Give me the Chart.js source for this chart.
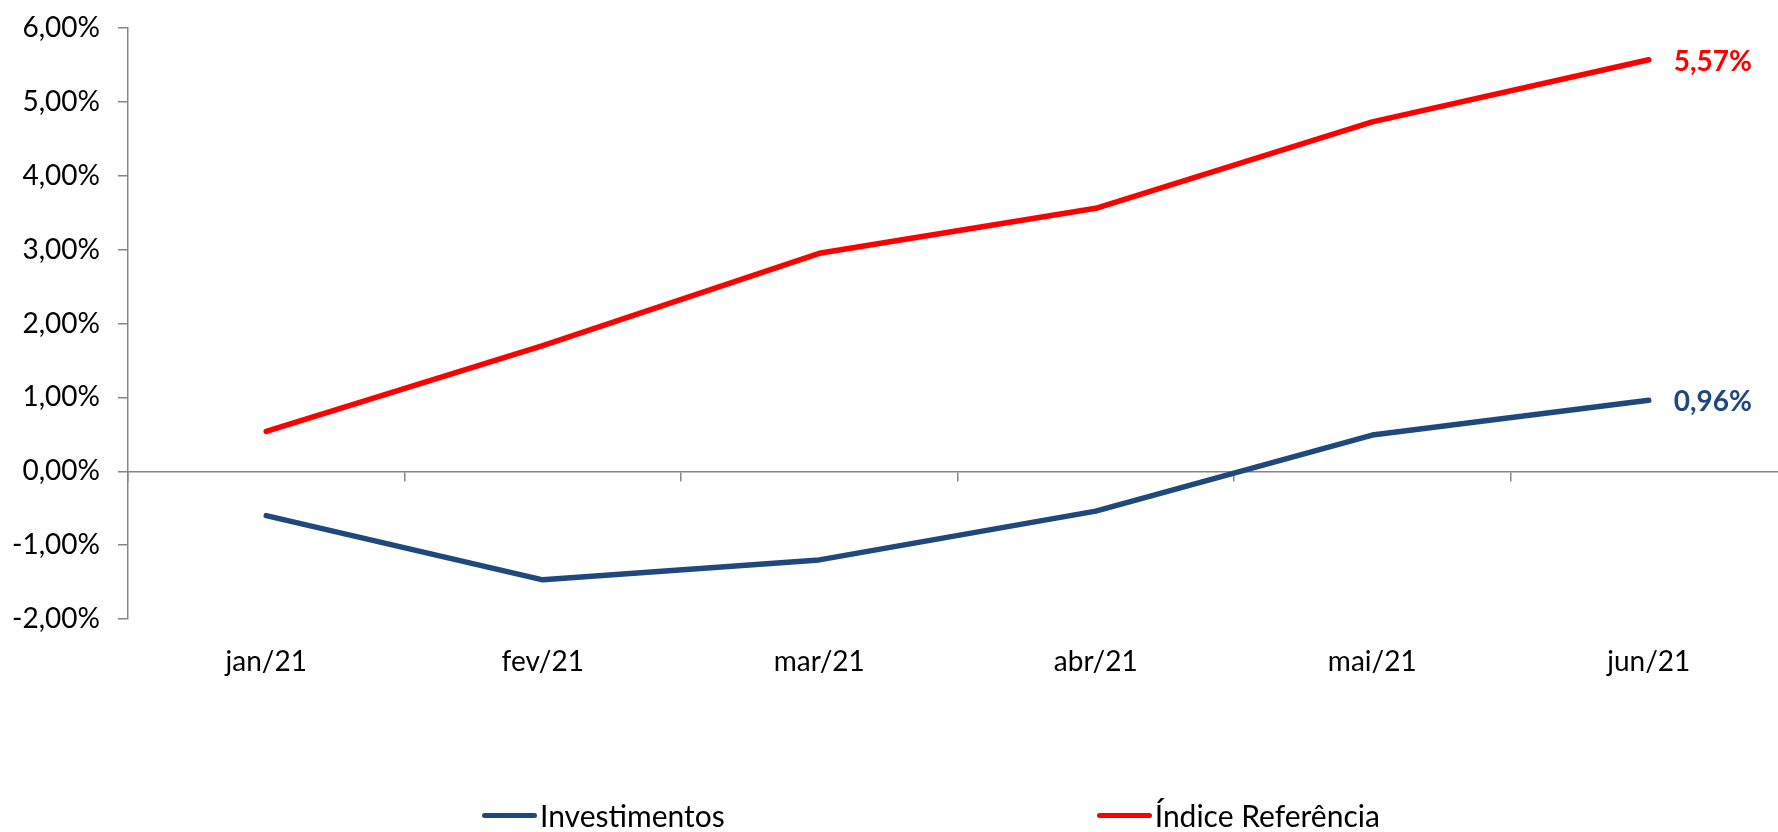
<!DOCTYPE html>
<html>
<head>
<meta charset="utf-8">
<title>Investimentos x Índice Referência</title>
<script src="https://cdn.jsdelivr.net/npm/chart.js@4.4.1/dist/chart.umd.min.js"></script>
<style>
  html, body { margin: 0; padding: 0; background: #fff; }
  #wrap { position: relative; width: 1778px; height: 832px; overflow: hidden; }
  #chart { position: absolute; left: 0; top: 0; }
  #legend { position: absolute; left: 482px; top: 797px; display: flex; gap: 372px;
            font-family: Lato, sans-serif; font-size: 30px; color: #000; line-height: 36px; }
  .item { display: flex; align-items: center; }
  .swatch { width: 55px; height: 5px; border-radius: 3px; margin-right: 3px; }
</style>
</head>
<body>
<div id="wrap">
  <canvas id="chart" width="1800" height="832"></canvas>
  <div id="legend"></div>
</div>
<script>
// dados (%)
const categories = ['jan/21', 'fev/21', 'mar/21', 'abr/21', 'mai/21', 'jun/21'];
const investimentos = [-0.60, -1.47, -1.20, -0.54, 0.49, 0.96];
const indiceReferencia = [0.54, 1.70, 2.95, 3.56, 4.73, 5.57];
const seriesNames = ['Investimentos', 'Índice Referência'];
const seriesColors = ['#1F497D', '#FF0000'];
const yMin = -2, yMax = 6, yStep = 1;

const axisGray = '#868686';
const fmtPct = v => v.toFixed(2).replace('.', ',') + '%';

// rótulo só no último ponto de cada série
const endLabels = {
    id: 'endLabels',
    afterDatasetsDraw(chart) {
        const ctx = chart.ctx;
        chart.data.datasets.forEach((ds, i) => {
            const meta = chart.getDatasetMeta(i);
            const last = meta.data[meta.data.length - 1];
            ctx.save();
            ctx.font = 'bold 28px Lato';
            ctx.fillStyle = ds.borderColor;
            ctx.textAlign = 'left';
            ctx.textBaseline = 'middle';
            ctx.fillText(fmtPct(ds.data[ds.data.length - 1]), last.x + 25, last.y + 2);
            ctx.restore();
        });
    }
};

const ctx = document.getElementById('chart').getContext('2d');
new Chart(ctx, {
    type: 'line',
    data: {
        labels: categories,
        datasets: [
            { label: seriesNames[0], data: investimentos, borderColor: seriesColors[0], backgroundColor: seriesColors[0] },
            { label: seriesNames[1], data: indiceReferencia, borderColor: seriesColors[1], backgroundColor: seriesColors[1] }
        ]
    },
    options: {
        responsive: false,
        animation: false,
        layout: { padding: { top: 28, right: 13, bottom: 153, left: 0 } },
        elements: {
            line: { borderWidth: 5.5, tension: 0, borderCapStyle: 'round', borderJoinStyle: 'round' },
            point: { radius: 0, hoverRadius: 0 }
        },
        plugins: { legend: { display: false }, tooltip: { enabled: false } },
        scales: {
            x: {
                type: 'category',
                position: 'bottom',
                offset: true,
                grid: { display: false, drawTicks: false },
                border: { display: false },
                ticks: { font: { family: 'Lato', size: 28 }, color: '#000', padding: 26, maxRotation: 0 },
                afterFit: s => { s.height = 60; }
            },
            xZero: {
                type: 'category',
                axis: 'x',
                position: { y: 0 },
                offset: true,
                grid: { offset: true, drawOnChartArea: false, drawTicks: true, tickLength: 9, color: axisGray, lineWidth: 1.5 },
                border: { display: true, color: axisGray, width: 1.5 },
                ticks: { display: false }
            },
            y: {
                min: yMin,
                max: yMax,
                ticks: { stepSize: yStep, callback: v => fmtPct(v), font: { family: 'Lato', size: 28 }, color: '#000', padding: 18 },
                grid: { drawOnChartArea: false, drawTicks: true, tickLength: 10, color: axisGray, lineWidth: 1.5 },
                border: { display: true, color: axisGray, width: 1.5 },
                afterFit: s => { s.width = 128; s.paddingTop = 0; s.paddingBottom = 0; }
            }
        }
    },
    plugins: [endLabels]
});

// legenda no estilo do Excel
const legend = document.getElementById('legend');
seriesNames.forEach((name, i) => {
    const item = document.createElement('div');
    item.className = 'item';
    const sw = document.createElement('span');
    sw.className = 'swatch';
    sw.style.background = seriesColors[i];
    const txt = document.createElement('span');
    txt.textContent = name;
    item.appendChild(sw);
    item.appendChild(txt);
    legend.appendChild(item);
});
</script>
</body>
</html>
